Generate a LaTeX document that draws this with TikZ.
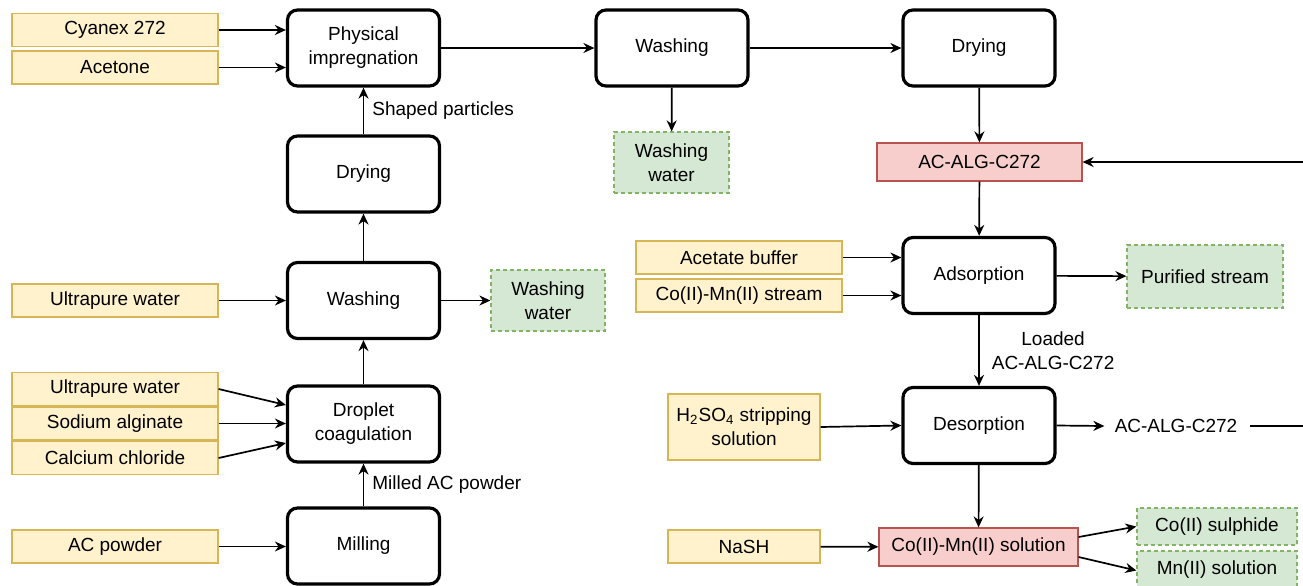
\documentclass[tikz,border=0pt]{standalone}
\usepackage{fontspec}
\setmainfont{Liberation Sans}
\usetikzlibrary{arrows.meta}
\definecolor{yfill}{HTML}{FFF2CC}
\definecolor{ydraw}{HTML}{D6B656}
\definecolor{gfill}{HTML}{D5E8D4}
\definecolor{gdraw}{HTML}{82B366}
\definecolor{rfill}{HTML}{F8CECC}
\definecolor{rdraw}{HTML}{B85450}
\begin{document}
\begin{tikzpicture}[x=0.5pt,y=-0.5pt,
  every node/.style={font=\fontsize{9.5}{12}\selectfont, align=center, inner sep=0pt},
  proc/.style={draw=black, line width=1.6pt, rounded corners=5pt, fill=white, minimum width=76pt, minimum height=38pt},
  inbox/.style={draw=ydraw, line width=0.6pt, fill=yfill, minimum height=16.5pt},
  outbox/.style={draw=gdraw, line width=0.6pt, dash pattern=on 2pt off 1.5pt, fill=gfill},
  prodbox/.style={draw=rdraw, line width=0.6pt, fill=rfill, minimum height=19pt},
  flow/.style={draw=black, line width=0.85pt, -{Stealth[length=5.5pt,width=5pt]}},
  plain/.style={draw=black, line width=0.85pt},
  lbl/.style={right, xshift=4pt}
]
\clip (0,0) rectangle (1303,585);
\fill[white] (0,0) rectangle (1303,585);

% ---- left column process boxes
\node[proc] (pi) at (363.5,48) {Physical\\impregnation};
\node[proc] (dry1) at (363.5,174) {Drying};
\node[proc] (wash1) at (363.5,300.5) {Washing};
\node[proc] (drop) at (363.5,424) {Droplet\\coagulation};
\node[proc] (mill) at (363.5,546) {Milling};

% ---- top row
\node[proc] (wash2) at (672,48) {Washing};
\node[proc] (dry2) at (979,48) {Drying};

% ---- right column
\node[proc] (ads) at (979,275.5) {Adsorption};
\node[proc] (des) at (979,425.5) {Desorption};

% ---- inputs (yellow)
\node[inbox, minimum width=103pt] (cy) at (115,30) {Cyanex 272};
\node[inbox, minimum width=103pt] (ac) at (115,67.5) {Acetone};
\node[inbox, minimum width=103pt] (uw1) at (115,300.5) {Ultrapure water};
\node[inbox, minimum width=103pt] (uw2) at (115,389) {Ultrapure water};
\node[inbox, minimum width=103pt] (sa) at (115,423.5) {Sodium alginate};
\node[inbox, minimum width=103pt] (cc) at (115,458) {Calcium chloride};
\node[inbox, minimum width=103pt] (acp) at (115,546.5) {AC powder};
\node[inbox, minimum width=103pt] (ab) at (739,257.5) {Acetate buffer};
\node[inbox, minimum width=103pt] (cms) at (739,295.5) {Co(II)-Mn(II) stream};
\node[inbox, minimum width=76pt, minimum height=33pt] (h2) at (744,427) {H\textsubscript{2}SO\textsubscript{4} stripping\\solution};
\node[inbox, minimum width=76pt] (nash) at (744,546.5) {NaSH};

% ---- outputs (green)
\node[outbox, minimum width=57.5pt, minimum height=30.5pt] (ww2) at (671.5,162.5) {Washing\\water};
\node[outbox, minimum width=57pt, minimum height=30.5pt] (ww1) at (548,300.5) {Washing\\water};
\node[outbox, minimum width=78pt, minimum height=31.5pt] (ps) at (1205,276.5) {Purified stream};
\node[outbox, minimum width=80pt, minimum height=18.5pt] (cos) at (1217,526.5) {Co(II) sulphide};
\node[outbox, minimum width=80pt, minimum height=18.5pt] (mns) at (1217,569.5) {Mn(II) solution};

% ---- products (red)
\node[prodbox, minimum width=102.5pt] (acalg) at (979.5,162) {AC-ALG-C272};
\node[prodbox, minimum width=99.5pt] (cmsol) at (978.5,547) {Co(II)-Mn(II) solution};

% ---- recycled sorbent text
\node (recyc) at (1176,426) {AC-ALG-C272};
\coordinate (r1) at (1312,426);

% ---- connectors, left column
\draw[flow] (cy.east) -- (cy.east -| pi.west);
\draw[flow] (ac.east) -- (ac.east -| pi.west);
\draw[flow] (dry1) -- (pi) node[lbl, midway] {Shaped particles};
\draw[flow] (wash1) -- (dry1);
\draw[flow] (uw1) -- (wash1);
\draw[flow] (wash1) -- (ww1);
\draw[flow] (drop) -- (wash1);
\draw[flow] (uw2.east) -- ([yshift=9.5pt]drop.west);
\draw[flow] (sa.east) -- (sa.east -| drop.west);
\draw[flow] (cc.east) -- ([yshift=-9.5pt]drop.west);
\draw[flow] (mill) -- (drop) node[lbl, midway] {Milled AC powder};
\draw[flow] (acp) -- (acp -| mill.west);

% ---- connectors, top row
\draw[flow] (pi.east) -- (wash2.west);
\draw[flow] (wash2.east) -- (dry2.west);
\draw[flow] (wash2) -- (ww2);
\draw[flow] (dry2) -- (acalg);

% ---- connectors, right column
\draw[flow] (acalg) -- (ads);
\draw[flow] (ab.east) -- (ab.east -| ads.west);
\draw[flow] (cms.east) -- (cms.east -| ads.west);
\draw[flow] (ads) -- (ps);
\draw[flow] (ads) -- (des) node[lbl, midway, xshift=2pt] {Loaded\\AC-ALG-C272};
\draw[flow] (h2.east) -- (des.west);
\draw[flow] (des.east) -- ([xshift=-5pt]recyc.west);
\draw[plain] ([xshift=6pt]recyc.east) -- (r1);
\draw[flow] (r1) |- (acalg.east);
\draw[flow] (des) -- (cmsol);
\draw[flow] (nash) -- (cmsol);
\draw[flow] ([yshift=5pt]cmsol.east) -- (cos.west);
\draw[flow] ([yshift=-5pt]cmsol.east) -- ([yshift=-0.5pt]mns.west);
\end{tikzpicture}
\end{document}
